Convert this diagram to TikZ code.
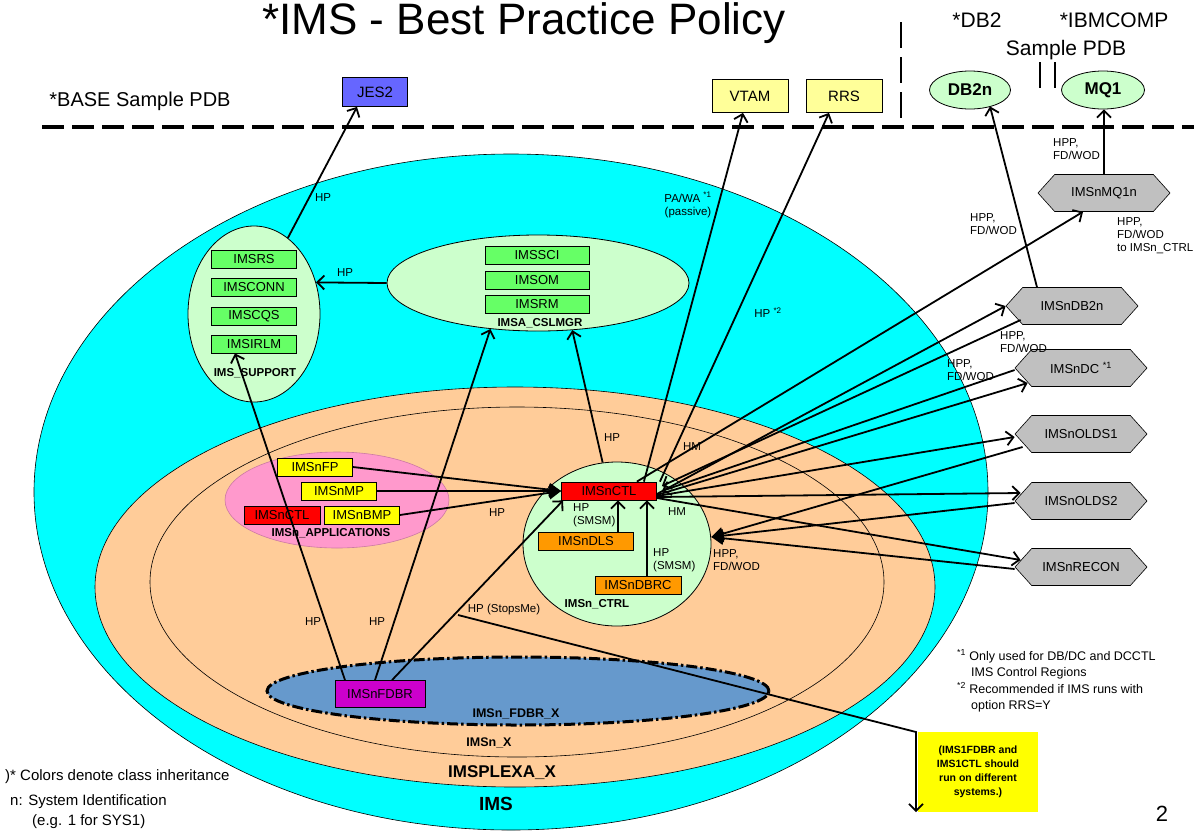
\documentclass[tikz,border=0pt]{standalone}
\usepackage{fontspec}
\setmainfont{Liberation Sans}
\usetikzlibrary{arrows.meta,positioning,shapes.geometric,shapes.symbols}
\definecolor{imscyan}{HTML}{00FFFF}
\definecolor{imspeach}{HTML}{FFCC99}
\definecolor{imsmint}{HTML}{CCFFCC}
\definecolor{imsgreen}{HTML}{66FF66}
\definecolor{imspink}{HTML}{FF99CC}
\definecolor{imsred}{HTML}{FF0000}
\definecolor{imsyellow}{HTML}{FFFF00}
\definecolor{imscream}{HTML}{FFFF99}
\definecolor{imsorange}{HTML}{FF9900}
\definecolor{imssteel}{HTML}{6699CC}
\definecolor{imsmagenta}{HTML}{CC00CC}
\definecolor{imsviolet}{HTML}{6666FF}
\definecolor{imsgray}{HTML}{C0C0C0}
\tikzset{
  zone/.style={ellipse,draw,inner sep=0pt,line width=0.6pt},
  pbox/.style={draw,line width=0.8pt,inner sep=1pt,minimum height=18pt,font=\fontsize{13}{14}\selectfont},
  grbox/.style={pbox,fill=imsgreen,minimum width=85pt},
  ylbox/.style={pbox,fill=imsyellow,minimum width=75pt},
  rdbox/.style={pbox,fill=imsred,minimum width=76pt},
  orbox/.style={pbox,fill=imsorange,minimum width=95pt},
  extbox/.style={pbox,fill=imscream,minimum width=76pt,minimum height=33pt,font=\fontsize{15}{16}\selectfont},
  pdb/.style={zone,fill=imsmint,line width=0.8pt,minimum width=81pt,minimum height=38pt,font=\bfseries\fontsize{17}{18}\selectfont},
  hexa/.style={signal,signal to=east and west,signal pointer angle=96,draw,line width=0.6pt,fill=imsgray,minimum width=132pt,minimum height=37pt,inner sep=1pt,font=\fontsize{13}{14}\selectfont},
  zlab/.style={font=\bfseries\fontsize{11.5}{13}\selectfont,inner sep=0pt},
  lab/.style={font=\fontsize{11.5}{13}\selectfont,inner sep=0pt,align=left},
  head/.style={font=\fontsize{21}{24}\selectfont,inner sep=0pt},
  ar/.style={-{Straight Barb[length=7pt,width=14pt]},line width=1.8pt},
  arf/.style={-{Triangle[length=12pt,width=13pt]},line width=1.8pt},
}
\begin{document}
\begin{tikzpicture}[x=1pt,y=-1pt]
\useasboundingbox (0,0) rectangle (1194,831);
% headings
\node[font=\fontsize{44}{46}\selectfont,inner sep=0pt] (title) at (524,23) {*IMS - Best Practice Policy};
\node[head,font=\fontsize{20}{22}\selectfont] (basepdb) at (140,101) {*BASE Sample PDB};
\node[head] (dbtwo) at (977,20) {*DB2};
\node[head] (ibmcomp) at (1114,20) {*IBMCOMP};
\node[head] (samplepdb) at (1066,50) {Sample PDB};
\draw[line width=4pt,dash pattern=on 22pt off 8pt] (42,127) -- (1194,127);
\draw[line width=2pt,dash pattern=on 26pt off 9pt] (901,22) -- (901,127);
\draw[line width=1.4pt] (1040,62) -- (1040,88) (1055,62) -- (1055,88);
% outside the sysplex
\node[extbox,fill=imsviolet,minimum width=65pt,minimum height=29pt] (jes) at (375,92) {JES2};
\node[extbox] (vtam) at (750,96) {VTAM};
\node[extbox] (rrs) at (844,96) {RRS};
\node[pdb] (db2) at (970,90) {DB2n};
\node[pdb,minimum width=83pt] (mq1) at (1103,90) {MQ1};
% zones
\node[zone,fill=imscyan,minimum width=954pt,minimum height=676pt] (ims) at (511,492) {};
\node[zone,fill=imspeach,minimum width=840pt,minimum height=400pt] (plex) at (515,587) {};
\node[zone,minimum width=734pt,minimum height=350pt] (nx) at (517,582) {};
\node[zone,fill=imssteel,line width=3pt,dash pattern=on 11pt off 3pt on 2.5pt off 3pt,minimum width=502pt,minimum height=68pt] (fdbrx) at (518,691) {};
\node[zone,fill=imsmint,line width=0.8pt,minimum width=132pt,minimum height=176pt] (sup) at (254,314) {};
\node[zone,fill=imsmint,line width=0.8pt,minimum width=302pt,minimum height=96pt] (csl) at (538,283) {};
\node[zone,fill=imspink,draw=imspink!80!black,line width=0.6pt,minimum width=224pt,minimum height=96pt] (apps) at (337,500) {};
\node[zone,fill=imsmint,line width=0.8pt,minimum width=188pt,minimum height=164pt] (ctrl) at (617,544) {};
% region boxes
\node[grbox] (rs) at (254,259) {IMSRS};
\node[grbox] (conn) at (254,287) {IMSCONN};
\node[grbox] (cqs) at (254,316) {IMSCQS};
\node[grbox] (irlm) at (254,344) {IMSIRLM};
\node[grbox,minimum width=104pt] (sci) at (537,255) {IMSSCI};
\node[grbox,minimum width=104pt] (om) at (537,280) {IMSOM};
\node[grbox,minimum width=104pt] (rm) at (537,304) {IMSRM};
\node[ylbox] (fp) at (315,467) {IMSnFP};
\node[ylbox] (mp) at (339,491) {IMSnMP};
\node[rdbox] (appctl) at (282,515) {IMSnCTL};
\node[ylbox] (bmp) at (362,515) {IMSnBMP};
\node[rdbox,minimum width=95pt] (ctl) at (609,491) {IMSnCTL};
\node[orbox] (dls) at (586,541) {IMSnDLS};
\node[orbox,minimum width=86pt] (dbrc) at (638,585) {IMSnDBRC};
\node[pbox,fill=imsmagenta,minimum width=90pt,minimum height=27pt] (fdbr) at (380,694) {IMSnFDBR};
% zone names
\node[zlab] (suplbl) at (255,373) {IMS\_SUPPORT};
\node[zlab] (csllbl) at (540,323) {IMSA\_CSLMGR};
\node[zlab] (appslbl) at (331,533) {IMSn\_APPLICATIONS};
\node[zlab] (ctrllbl) at (597,604) {IMSn\_CTRL};
\node[zlab,font=\bfseries\fontsize{12.5}{14}\selectfont] (fdbrxlbl) at (516,714) {IMSn\_FDBR\_X};
\node[zlab,font=\bfseries\fontsize{12.5}{14}\selectfont] (nxlbl) at (489,743) {IMSn\_X};
\node[zlab,font=\bfseries\fontsize{17}{18}\selectfont] (plexlbl) at (502,773) {IMSPLEXA\_X};
\node[zlab,font=\bfseries\fontsize{19}{20}\selectfont] (imslbl) at (496,804) {IMS};
% address spaces outside
\node[hexa] (mqhex) at (1104,193) {IMSnMQ1n};
\node[hexa] (dbhex) at (1072,306) {IMSnDB2n};
\node[hexa] (dchex) at (1081,368) {IMSnDC \textsuperscript{*1}};
\node[hexa] (olds1) at (1081,434) {IMSnOLDS1};
\node[hexa] (olds2) at (1081,501) {IMSnOLDS2};
\node[hexa] (recon) at (1081,567) {IMSnRECON};
% connectors
\draw[ar] (sup.66) -- ([xshift=-18pt]jes.south);
\draw[ar] (csl.west) -- (sup.27);
\draw[ar] ([xshift=-35pt]fdbr.north) -- ([xshift=-19pt]irlm.south);
\draw[ar] ([xshift=-5pt]fdbr.north) -- (csl.224);
\draw[ar] ([xshift=12pt]fdbr.north) -- ([xshift=2pt]ctl.south west);
\draw[ar] (ctrl.100) -- (csl.-54);
\draw[arf] (fp.east) -- (ctl.west);
\draw[arf] (mp.east) -- (ctl.west);
\draw[arf] (bmp.east) -- (ctl.west);
\draw[ar] ([xshift=9pt]ctl.south |- dls.north) -- ([xshift=9pt]ctl.south);
\draw[ar] ([xshift=38pt]ctl.south |- dbrc.north) -- ([xshift=38pt]ctl.south);
\draw[ar] ([xshift=-13pt]ctl.north east) -- ([xshift=-7pt]vtam.south);
\draw[ar] ([xshift=3pt]ctl.north east) -- ([xshift=-15pt]rrs.south);
\draw[ar] ([xshift=-20pt]ctl.north east) -- ([xshift=-21pt]mqhex.south);
\draw[ar] (mqhex.north) -- (mqhex.north |- mq1.south);
\draw[ar] ([xshift=-35pt]dbhex.north) -- ([xshift=20pt,yshift=3pt]db2.south);
\draw[ar] ([yshift=-3pt]ctl.east) -- (dbhex.west);
\draw[ar] ([xshift=15pt,yshift=-14pt]dbhex.west) -- ([xshift=5pt,yshift=5pt]ctl.east);
\draw[ar] ([yshift=-4pt]ctl.east) -- ([xshift=13pt,yshift=-15pt]dchex.west);
\draw[ar] ([yshift=-2pt]dchex.west) -- ([xshift=5pt]ctl.east);
\draw[ar] ([yshift=-5pt]ctl.east) -- ([yshift=-3pt]olds1.west);
\draw[arf] ([xshift=8pt,yshift=-13pt]olds1.west) -- ([yshift=7pt]ctrl.east);
\draw[ar] ([yshift=-6pt]ctl.east) -- ([xshift=6pt,yshift=8pt]olds2.west);
\draw[arf] ([yshift=-2pt]olds2.west) -- ([yshift=7pt]ctrl.east);
\draw[ar] ([yshift=-7pt]ctl.east) -- ([xshift=6pt,yshift=7pt]recon.west);
\draw[arf] ([yshift=-2pt]recon.west) -- ([yshift=7pt]ctrl.east);
% stop message
\node[fill=imsyellow,minimum width=120pt,minimum height=80pt,align=center,font=\bfseries\fontsize{10.5}{14}\selectfont] (warn) at (978,772) {(IMS1FDBR and\\IMS1CTL should\\run on different\\systems.)};
\coordinate (stopa) at (458,615);
\coordinate (stopb) at (916,732);
\draw[ar] (stopa) -- (stopb) -- (stopb |- warn.south);
% connector labels
\node[lab] (hpjes) at (323,198) {HP};
\node[lab] (hpsup) at (345,273) {HP};
\node[lab] (hpirlm) at (313,622) {HP};
\node[lab] (hpcsl) at (377,622) {HP};
\node[lab] (hpctrl) at (612,438) {HP};
\node[lab] (hpapps) at (497,513) {HP};
\node[lab] (hpstop) at (504,610) {HP (StopsMe)};
\node[lab,anchor=west] (hpdls) at (573,515) {HP\\(SMSM)};
\node[lab,anchor=west] (hpdbrc) at (653,560) {HP\\(SMSM)};
\node[lab,align=center] (pawa) at (688,205) {PA/WA \textsuperscript{*1}\\(passive)};
\node[lab] (hprrs) at (768,313) {HP \textsuperscript{*2}};
\node[lab] (hmup) at (692,447) {HM};
\node[lab] (hmdown) at (677,512) {HM};
\node[lab,anchor=west] (hppctrl) at (713,560) {HPP,\\FD/WOD};
\node[lab,anchor=west] (hppmq) at (1053,149) {HPP,\\FD/WOD};
\node[lab,anchor=west] (hppdb) at (970,224) {HPP,\\FD/WOD};
\node[lab,anchor=west] (hppmqn) at (1117,236) {HPP,\\FD/WOD\\to IMSn\_CTRL};
\node[lab,anchor=west] (hppdbn) at (1000,342) {HPP,\\FD/WOD};
\node[lab,anchor=west] (hppdc) at (947,370) {HPP,\\FD/WOD};
% footnotes
\node[lab,anchor=west,font=\fontsize{12.5}{16.5}\selectfont] (fnotes) at (957,681) {\textsuperscript{*1} Only used for DB/DC and DCCTL\\\hspace*{14pt}IMS Control Regions\\\textsuperscript{*2} Recommended if IMS runs with\\\hspace*{14pt}option RRS=Y};
\node[lab,anchor=west,font=\fontsize{15}{17}\selectfont] (colors) at (5,777) {)* Colors denote class inheritance};
\node[lab,anchor=west,font=\fontsize{15}{20}\selectfont] (sysid) at (10,812) {n: System Identification\\\hspace*{22pt}(e.g. 1 for SYS1)};
\node[lab,font=\fontsize{22}{24}\selectfont] (pageno) at (1162,814) {2};
\end{tikzpicture}
\end{document}
